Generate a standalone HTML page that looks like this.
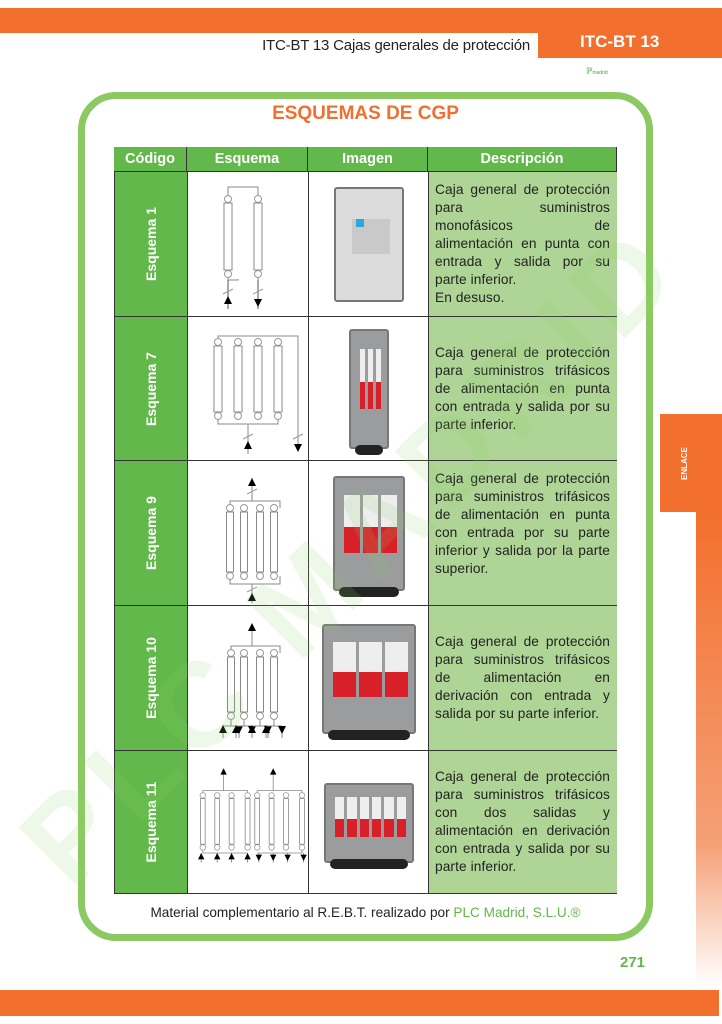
<!DOCTYPE html>
<html><head><meta charset="utf-8">
<style>
*{margin:0;padding:0;box-sizing:border-box}
body{width:722px;height:1024px;position:relative;background:#fff;font-family:"Liberation Sans",sans-serif;overflow:hidden}
.a{position:absolute}
.hd{color:#fff;font-weight:bold;font-size:14.5px;text-align:center;line-height:24px;background:#62b84a;border-right:1px solid #333}
.code{background:#62b84a;border-top:1px solid #333}
.code span{position:absolute;left:50%;top:50%;transform:translate(-50%,-50%) rotate(-90deg);color:#fff;font-weight:bold;font-size:14px;white-space:nowrap}
.cell{background:#fff;border-top:1px solid #333;border-left:1px solid #333}
.desc{background:#aed596;border-top:1px solid #333;border-left:1px solid #333;font-size:13.7px;letter-spacing:0.1px;line-height:18px;color:#222;padding:9px 7px 0 6px;text-align:justify}
.desc.c{display:flex;align-items:center;padding-top:0}
</style></head><body>
<div class="a" style="left:0;top:8px;width:722px;height:25px;background:#f36f2d"></div>
<div class="a" style="left:538px;top:33px;width:184px;height:25px;background:#f36f2d;color:#fff;font-weight:bold;font-size:17px;line-height:18px;padding-left:42px">ITC-BT 13</div>
<div class="a" style="left:200px;top:37px;width:330px;text-align:right;font-size:15px;color:#222;letter-spacing:-0.2px">ITC-BT 13 Cajas generales de protección</div>
<div class="a" style="left:586px;top:66px;font-size:9px;color:#4a4">ℙ<span style="font-size:5px">madrid</span></div>
<div class="a" style="left:696px;top:512px;width:26px;height:475px;background:linear-gradient(#f36f2d,#f5a077 70%,#fff)"></div>
<div class="a" style="left:0;top:990px;width:719px;height:26px;background:#f36f2d"></div>
<div class="a" style="left:620px;top:954px;color:#62b84a;font-weight:bold;font-size:15px">271</div>

<div class="a" style="left:78px;top:92px;width:575px;height:849px;border:7px solid #8cc963;border-radius:38px"></div>
<div class="a" style="left:78px;top:103px;width:575px;text-align:center;color:#f36f2d;font-weight:bold;font-size:19px">ESQUEMAS DE CGP</div>

<div class="a" style="left:114px;top:147px;width:503px;height:747px;border:1px solid #333;background:#fff"></div>
<div class="a hd" style="left:114px;top:147px;width:73px;height:24px">Código</div>
<div class="a hd" style="left:187px;top:147px;width:121px;height:24px">Esquema</div>
<div class="a hd" style="left:308px;top:147px;width:120px;height:24px">Imagen</div>
<div class="a hd" style="left:428px;top:147px;width:189px;height:24px;border-right:1px solid #333">Descripción</div>

<div id="rows"></div>

<div class="a" style="left:78px;top:905px;width:575px;text-align:center;font-size:13.6px;color:#222">Material complementario al R.E.B.T. realizado por <span style="color:#62b84a">PLC Madrid, S.L.U.®</span></div>

<div class="a" style="left:0px;top:820px;transform:rotate(-45deg);transform-origin:0 0;font-size:120px;line-height:120px;color:rgba(140,210,100,0.15);font-weight:bold;letter-spacing:12px;white-space:nowrap;pointer-events:none">PLC MADRID</div>

<div class="a" style="left:660px;top:414px;width:62px;height:98px;background:#f36f2d"></div>
<div class="a" style="left:680px;top:480px;transform:rotate(-90deg);transform-origin:0 0;color:#fff;font-size:8px;font-weight:bold">ENLACE</div>

<div id="r" style="display:none">
<p>Caja general de protección para suministros monofásicos de alimentación en punta con entrada y salida por su parte inferior.<br>En desuso.</p>
<p>Caja general de protección para suministros trifásicos de alimentación en punta con entrada y salida por su parte inferior.</p>
<p>Caja general de protección para suministros trifásicos de alimentación en punta con entrada por su parte inferior y salida por la parte superior.</p>
<p>Caja general de protección para suministros trifásicos de alimentación en derivación con entrada y salida por su parte inferior.</p>
<p>Caja general de protección para suministros trifásicos con dos salidas y alimentación en derivación con entrada y salida por su parte inferior.</p>
</div>
<script>
var tops=[171,316,460,605,750,893];
var names=["Esquema 1","Esquema 7","Esquema 9","Esquema 10","Esquema 11"];
var descs=document.querySelectorAll('#r p');
var h='';
function fuse(x,y1,y2,w){return '<circle cx="'+x+'" cy="'+y1+'" r="3.5" fill="#fff" stroke="#999"/><circle cx="'+x+'" cy="'+y2+'" r="3.5" fill="#fff" stroke="#999"/><rect x="'+(x-w/2)+'" y="'+(y1+4)+'" width="'+w+'" height="'+(y2-y1-8)+'" fill="none" stroke="#888"/>';}
function up(x,y){return '<path d="M'+(x-4)+' '+y+'L'+(x+4)+' '+y+'L'+x+' '+(y-8)+'Z" fill="#000"/>';}
function dn(x,y){return '<path d="M'+(x-4)+' '+y+'L'+(x+4)+' '+y+'L'+x+' '+(y+8)+'Z" fill="#000"/>';}
var sch=[];
sch[0]=function(){var s='<path d="M50 20V8H80V20M50 95V101H60V100M80 95V101" stroke="#888" fill="none"/>'+fuse(50,20,95,8)+fuse(80,20,95,8)+'<path d="M50 101V130M80 101V130" stroke="#555" fill="none"/><path d="M45 115l10-5M75 115l10-5" stroke="#999"/>'+up(50,125)+dn(80,120);return s;};
sch[1]=function(){var s='<path d="M30 18V12H110V120M30 92V100H90V92M60 100V130" stroke="#888" fill="none"/>';[30,50,70,90].forEach(function(x){s+=fuse(x,18,92,8)});s+='<path d="M55 115l10-5M105 115l10-5" stroke="#999"/>'+up(60,125)+dn(110,120);return s;};
sch[2]=function(){var s='<path d="M42 40V33H92V40M42 108V116H92V108M64 33V10M64 116V135" stroke="#888" fill="none"/>';[42,56,72,86].forEach(function(x){s+=fuse(x,40,108,7)});s+=up(64,18)+'<path d="M59 26l10-5M59 124l10-5" stroke="#999"/>'+up(64,133);return s;};
sch[3]=function(){var s='<path d="M43 40V33H92V40M64 33V18" stroke="#888" fill="none"/>';[43,56,72,86].forEach(function(x){s+=fuse(x,40,103,7);s+='<path d="M'+x+' 107V113M'+(x-8)+' 113H'+(x+8)+'M'+(x-8)+' 113V125M'+(x+8)+' 113V125" stroke="#888" fill="none"/>'+up(x-8,120)+dn(x+8,113);});s+=up(64,18);return s;};
sch[4]=function(){var s='<path d="M16 38V32H72V38M84 38V32H140V38M42 32V12M104 32V12M16 103V110H72M84 110H140V103" stroke="#888" fill="none"/>';[16,34,52,72,84,102,120,140].forEach(function(x){s+=fuse(x,38,103,6)});s+=up(42,12)+up(104,12);[14,34,52,72].forEach(function(x){s+='<path d="M'+x+' 110V122" stroke="#888"/>'+up(x,118)});[86,104,122,142].forEach(function(x){s+='<path d="M'+x+' 110V122" stroke="#888"/>'+dn(x,112)});return s;};
var tf=['translate(-10,5)','translate(0,5)','translate(0,5)','translate(0,5)','translate(2,12) scale(0.8)'];
function img(i){
 var w=[70,40,72,94,90][i],hh=[115,120,115,110,80][i],n=[0,3,3,3,6][i];
 var s='<div style="position:absolute;left:'+(60-w/2)+'px;top:'+((tops[i+1]-tops[i]-hh)/2)+'px;width:'+w+'px;height:'+hh+'px;background:'+(i==0?'#dcdcdc':'#9a9c9e')+';border:2px solid #777;border-radius:3px">';
 if(i==0){s+='<div style="position:absolute;left:16px;top:30px;width:38px;height:35px;background:#c9c9c9"></div><div style="position:absolute;left:20px;top:30px;width:8px;height:8px;background:#29a8e0"></div>';}
 var cw=(w-16)/n;
 for(var k=0;k<n;k++){s+='<div style="position:absolute;left:'+(8+k*cw+1)+'px;top:'+(hh*0.15)+'px;width:'+(cw-3)+'px;height:'+(hh*0.5)+'px;background:#eee"><div style="position:absolute;bottom:0;left:0;right:0;height:45%;background:#d8202a"></div></div>';}
 if(i>0)s+='<div style="position:absolute;left:4px;right:4px;bottom:-8px;height:10px;background:#222;border-radius:5px"></div>';
 return s+'</div>';}
for(var i=0;i<5;i++){var t=tops[i],hh=tops[i+1]-t;
 h+='<div class="a code" style="left:115px;top:'+t+'px;width:72px;height:'+hh+'px"><span>'+names[i]+'</span></div>';
 h+='<div class="a cell" style="left:187px;top:'+t+'px;width:121px;height:'+hh+'px;overflow:hidden"><svg width="121" height="'+hh+'" viewBox="0 0 121 '+hh+'" style="position:absolute;left:0;top:2px"><g transform="'+tf[i]+'">'+sch[i]()+'</g></svg></div>';
 h+='<div class="a cell" style="left:308px;top:'+t+'px;width:120px;height:'+hh+'px">'+img(i)+'</div>';
 h+='<div class="a desc'+(i==0||i==2?'':' c')+'" style="left:428px;top:'+t+'px;width:189px;height:'+hh+'px"><div>'+descs[i].innerHTML+'</div></div>';}
document.getElementById('rows').innerHTML=h;
</script>
</body></html>
